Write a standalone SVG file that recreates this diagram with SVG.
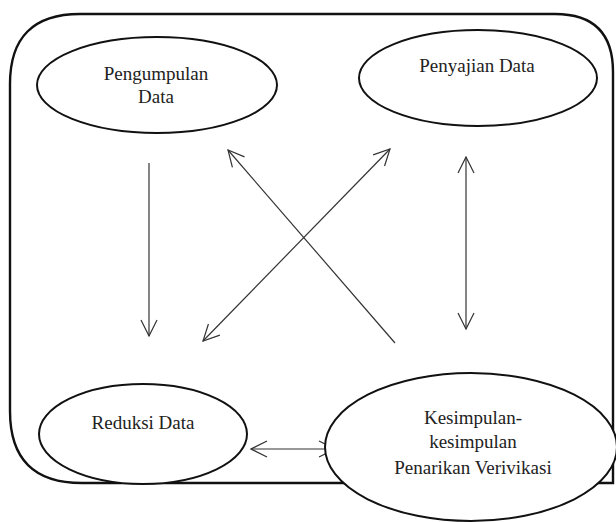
<svg xmlns="http://www.w3.org/2000/svg" width="616" height="522" viewBox="0 0 616 522">
<style>
.frame{fill:none;stroke:#111;stroke-width:2.4}
.node{fill:#fff;stroke:#111;stroke-width:2}
.lbl{font-family:'Liberation Serif',serif;font-size:19px;fill:#222;text-anchor:middle}
.conn line{stroke:#333;stroke-width:1.2;fill:none}
</style>
<defs>
<marker id="ah" viewBox="0 0 18 18" refX="17" refY="9" markerWidth="18" markerHeight="18" markerUnits="userSpaceOnUse" orient="auto-start-reverse">
<path d="M1,1 L17,9 L1,17" fill="none" stroke="#333" stroke-width="1.2"/>
</marker>
</defs>
<rect width="616" height="522" fill="#fff"/>
<path class="frame" d="M80,14 L555,14 Q613,14 613,72 L613,483 L82,483 Q10,483 10,411 L10,84 Q10,14 80,14 Z"/>
<g class="conn">
<line x1="149" y1="163" x2="149" y2="336" marker-end="url(#ah)"/>
<line x1="395" y1="343" x2="228" y2="150" marker-end="url(#ah)"/>
<line x1="390" y1="149" x2="203" y2="341" marker-start="url(#ah)" marker-end="url(#ah)"/>
<line x1="466" y1="157" x2="466" y2="329" marker-start="url(#ah)" marker-end="url(#ah)"/>
<line x1="251" y1="449" x2="335" y2="449" marker-start="url(#ah)" marker-end="url(#ah)"/>
</g>
<g id="pengumpulan">
<ellipse class="node" cx="157" cy="85" rx="120" ry="48"/>
<text class="lbl" font-family="Liberation Serif, serif" x="156" y="80">Pengumpulan</text>
<text class="lbl" font-family="Liberation Serif, serif" x="156" y="103">Data</text>
</g>
<g id="penyajian">
<ellipse class="node" cx="478" cy="78" rx="119" ry="48"/>
<text class="lbl" font-family="Liberation Serif, serif" x="477" y="72">Penyajian Data</text>
</g>
<g id="reduksi">
<ellipse class="node" cx="143" cy="434" rx="104" ry="50"/>
<text class="lbl" font-family="Liberation Serif, serif" x="143" y="429">Reduksi Data</text>
</g>
<g id="kesimpulan">
<ellipse class="node" cx="471" cy="447" rx="146" ry="74"/>
<text class="lbl" font-family="Liberation Serif, serif" x="473" y="424">Kesimpulan-</text>
<text class="lbl" font-family="Liberation Serif, serif" x="473" y="448">kesimpulan</text>
<text class="lbl" font-family="Liberation Serif, serif" x="473" y="474">Penarikan Verivikasi</text>
</g>
</svg>
